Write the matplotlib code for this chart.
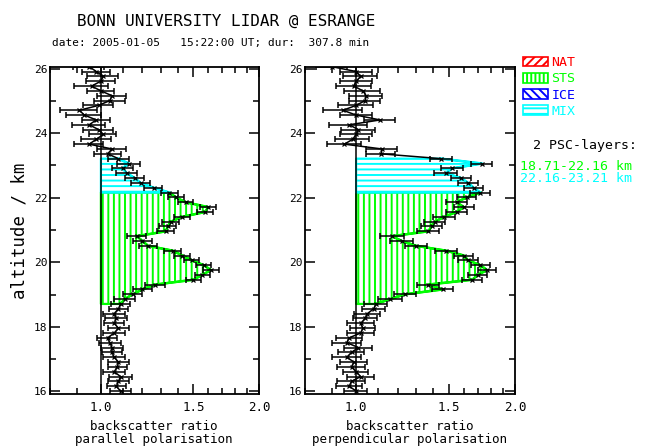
import numpy as np
from matplotlib import pyplot as plt
from matplotlib.patches import Patch
from matplotlib.ticker import FixedLocator, NullFormatter

plt.rcParams["font.family"] = ["DejaVu Sans Mono", "DejaVu Sans"]
plt.rcParams["hatch.linewidth"] = 1.4

# altitude grid of the lidar profile (km)
alt = [16.01, 16.16, 16.31, 16.46, 16.61, 16.76, 16.91, 17.06, 17.21, 17.36,
       17.51, 17.66, 17.81, 17.96, 18.11, 18.26, 18.41, 18.56, 18.71, 18.86,
       19.01, 19.16, 19.31, 19.46, 19.61, 19.76, 19.91, 20.06, 20.21, 20.36,
       20.51, 20.66, 20.81, 20.96, 21.11, 21.26, 21.41, 21.56, 21.71, 21.86,
       22.01, 22.16, 22.31, 22.46, 22.61, 22.76, 22.91, 23.06, 23.21, 23.36,
       23.51, 23.66, 23.81, 23.96, 24.11, 24.26, 24.41, 24.56, 24.71, 24.86,
       25.01, 25.16, 25.31, 25.46, 25.61, 25.76, 25.91, 26.06]

# backscatter ratio, parallel polarisation
par = [1.09, 1.07, 1.08, 1.09, 1.06, 1.075, 1.08, 1.06, 1.05, 1.05,
       1.04, 1.03, 1.06, 1.08, 1.06, 1.07, 1.06, 1.08,
       1.09, 1.11, 1.15, 1.20, 1.27, 1.50, 1.56, 1.62, 1.57, 1.49,
       1.43, 1.37, 1.23, 1.20, 1.17, 1.33, 1.34, 1.36, 1.43, 1.58,
       1.60, 1.45, 1.39, 1.35,
       1.26, 1.19, 1.16, 1.12, 1.10, 1.13, 1.08,
       1.03, 1.05, 0.95, 0.98, 1.01, 0.99, 0.95, 0.98, 0.93, 0.91,
       0.99, 1.04, 1.05, 1.00, 0.96, 1.00, 1.01, 0.98, 0.95]
par_err = [0.05, 0.045, 0.05, 0.055, 0.05, 0.045, 0.05, 0.05, 0.045, 0.05,
           0.05, 0.045, 0.05, 0.05, 0.045, 0.05, 0.05, 0.045,
           0.045, 0.05, 0.05, 0.05, 0.055, 0.05, 0.05, 0.055, 0.05, 0.05,
           0.05, 0.05, 0.05, 0.05, 0.05, 0.05, 0.05, 0.05, 0.05, 0.055,
           0.055, 0.05, 0.05, 0.05, 0.05, 0.05, 0.05, 0.05, 0.05, 0.055, 0.05,
           0.06, 0.065, 0.06, 0.065, 0.06, 0.065, 0.07, 0.06, 0.07, 0.075,
           0.065, 0.07, 0.065, 0.06, 0.07, 0.065, 0.07, 0.06, 0.065]

# backscatter ratio, perpendicular polarisation
perp = [1.00, 0.97, 0.98, 1.02, 1.00, 0.98, 0.99, 0.96, 0.98, 1.01,
        0.96, 0.97, 1.02, 1.03, 1.02, 1.04, 1.05, 1.08,
        1.09, 1.16, 1.24, 1.46, 1.37, 1.66, 1.70, 1.77, 1.72, 1.63,
        1.60, 1.48, 1.30, 1.22, 1.17, 1.37, 1.39, 1.41, 1.47, 1.55,
        1.60, 1.55, 1.62, 1.72,
        1.67, 1.63, 1.58, 1.48, 1.52, 1.73, 1.45,
        1.115, 1.12, 0.95, 0.985, 1.00, 1.01, 0.97, 1.11, 1.00, 0.944,
        1.00, 1.04, 1.045, 1.03, 0.99, 1.00, 1.02, 1.00, 0.90]
perp_err = [0.05, 0.055, 0.06, 0.06, 0.055, 0.06, 0.06, 0.06, 0.055, 0.06,
            0.06, 0.055, 0.06, 0.055, 0.06, 0.055, 0.06, 0.055,
            0.055, 0.06, 0.06, 0.065, 0.065, 0.07, 0.07, 0.07, 0.07, 0.07,
            0.065, 0.07, 0.065, 0.06, 0.06, 0.065, 0.065, 0.065, 0.07, 0.07,
            0.07, 0.07, 0.07, 0.075, 0.07, 0.07, 0.07, 0.075, 0.075, 0.08, 0.07,
            0.07, 0.075, 0.07, 0.075, 0.07, 0.075, 0.08, 0.075, 0.07, 0.08,
            0.075, 0.07, 0.075, 0.08, 0.075, 0.07, 0.075, 0.07, 0.06]

# PSC layers: (bottom, top, colour, hatch)
layers = [(18.71, 22.16, "#00ff00", "|||"),
          (22.16, 23.21, "#00ffff", "---")]

legend_names = ["NAT", "STS", "ICE", "MIX"]
legend_colors = ["#ff0000", "#00ff00", "#0000ff", "#00ffff"]
legend_hatches = ["////", "||||", "\\\\\\\\", "---"]

W, H = 651, 447
fig = plt.figure(figsize=(W / 100, H / 100), dpi=100)


def px(x, y):
    return x / W, 1 - y / H


def draw_panel(rect, vals, errs):
    ax = fig.add_axes(rect)
    a = np.array(alt)
    v = np.array(vals)
    for lo, hi, col, hatch in layers:
        m = (a >= lo - 1e-6) & (a <= hi + 1e-6)
        ax.fill_betweenx(a[m], 1.0, v[m], facecolor="none", edgecolor=col,
                         hatch=hatch, linewidth=1.6, zorder=1)
    ax.axvline(1.0, color="black", lw=1.1, zorder=2)
    ax.plot(v, a, color="black", lw=1.1, zorder=3)
    for lo, hi, col, hatch in layers:
        m = (a >= lo - 1e-6) & (a <= hi + 1e-6)
        ax.plot(v[m], a[m], color=col, lw=1.8, zorder=4)
    ax.errorbar(v, a, xerr=errs, fmt="none", ecolor="black", elinewidth=1.1,
                capsize=2.5, capthick=1.1, zorder=5)
    ax.plot(v, a, "x", color="black", ms=3, mew=0.9, zorder=6)

    ax.set_xscale("log")
    ax.set_xlim(0.8, 2.0)
    ax.set_ylim(15.92, 26.05)
    ax.xaxis.set_major_locator(FixedLocator([1.0, 1.5, 2.0]))
    ax.xaxis.set_minor_locator(FixedLocator([0.8, 0.9, 1.1, 1.2, 1.3, 1.4,
                                             1.6, 1.7, 1.8, 1.9]))
    ax.xaxis.set_minor_formatter(NullFormatter())
    ax.set_xticklabels(["1.0", "1.5", "2.0"])
    ax.set_yticks([16, 18, 20, 22, 24, 26])
    ax.set_yticks(np.arange(17, 26, 2), minor=True)
    ax.tick_params(which="both", direction="in", top=True, right=True,
                   width=1.1, labelsize=9, pad=5)
    ax.tick_params(which="major", length=7)
    ax.tick_params(which="minor", length=4)
    ax.tick_params(axis="y", labelsize=8, pad=2)
    for s in ax.spines.values():
        s.set_linewidth(1.3)
    return ax


ax1 = draw_panel([50 / W, 1 - 394 / H, 209 / W, 327 / H], par, par_err)
ax1.set_ylabel("altitude / km", fontsize=12.5, labelpad=4)
ax2 = draw_panel([305 / W, 1 - 394 / H, 210 / W, 327 / H], perp, perp_err)

# axis titles below each panel
fig.text(*px(154, 427), "backscatter ratio", fontsize=9, ha="center", va="center")
fig.text(*px(154, 440), "parallel polarisation", fontsize=9, ha="center", va="center")
fig.text(*px(410, 427), "backscatter ratio", fontsize=9, ha="center", va="center")
fig.text(*px(410, 440), "perpendicular polarisation", fontsize=9, ha="center",
         va="center")

fig.text(*px(226, 21), "BONN UNIVERSITY LIDAR @ ESRANGE", fontsize=11.5,
         ha="center", va="center")
fig.text(*px(52, 43), "date: 2005-01-05   15:22:00 UT; dur:  307.8 min",
         fontsize=8, ha="left", va="center")

handles = [Patch(facecolor="none", edgecolor=c, hatch=h, linewidth=1.2)
           for c, h in zip(legend_colors, legend_hatches)]
fig.legend(handles, legend_names, loc="upper left",
           bbox_to_anchor=px(523, 56), frameon=False, labelcolor=legend_colors,
           handlelength=1.9, handleheight=0.75, labelspacing=0.25,
           handletextpad=0.25, borderaxespad=0, borderpad=0, fontsize=9.5)

fig.text(*px(533, 145), "2 PSC-layers:", fontsize=9.5, ha="left", va="center")
fig.text(*px(520, 167), "18.71-22.16 km", fontsize=9.5, ha="left",
         va="center", color="#00ff00")
fig.text(*px(520, 179), "22.16-23.21 km", fontsize=9.5, ha="left",
         va="center", color="#00ffff")

fig.savefig("out.png", dpi=100)
